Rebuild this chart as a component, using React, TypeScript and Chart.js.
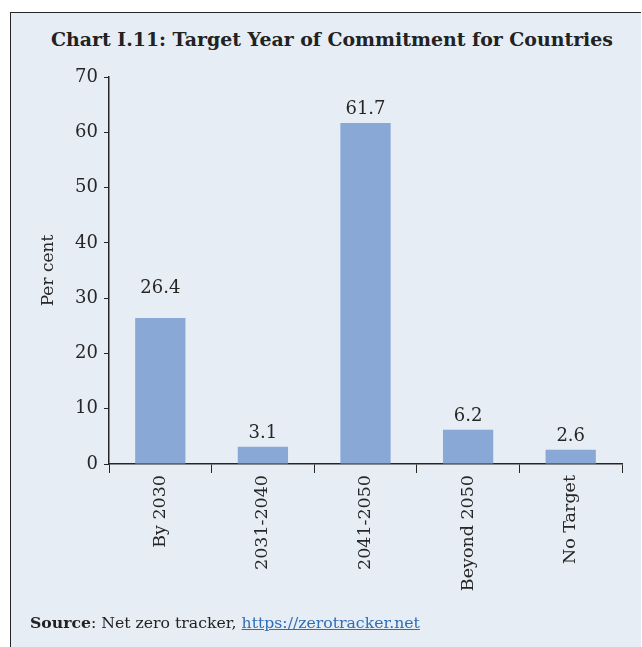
import React, { useEffect, useRef } from "react";
import { Chart, registerables } from "chart.js";

Chart.register(...registerables);

const categories = ["By 2030", "2031-2040", "2041-2050", "Beyond 2050", "No Target"];
const shares = [26.4, 3.1, 61.7, 6.2, 2.6];
const yTicks = [0, 10, 20, 30, 40, 50, 60, 70];

const FONT = "'DejaVu Serif', 'Liberation Serif', serif";
const BG = "#e6edf5";
const BAR = "#8aa8d6";
const INK = "#262626";

const valueLabels = {
  id: "valueLabels",
  afterDatasetsDraw(chart: any) {
    const { ctx } = chart;
    const meta = chart.getDatasetMeta(0);
    const data = chart.data.datasets[0].data as number[];
    ctx.save();
    ctx.font = `18px ${FONT}`;
    ctx.fillStyle = INK;
    ctx.textAlign = "center";
    ctx.textBaseline = "alphabetic";
    meta.data.forEach((bar: any, i: number) => {
      const gap = i === 0 ? 25 : 9;
      ctx.fillText(data[i].toFixed(1), bar.x, bar.y - gap);
    });
    ctx.restore();
  },
};

export default function App() {
  const ref = useRef<HTMLCanvasElement>(null);
  useEffect(() => {
    if (!ref.current) return;
    const chart = new Chart(ref.current, {
      type: "bar",
      data: {
        labels: categories,
        datasets: [
          {
            data: shares,
            backgroundColor: BAR,
            borderWidth: 0,
            barPercentage: 0.49,
            categoryPercentage: 1,
          },
        ],
      },
      options: {
        animation: false,
        responsive: false,
        maintainAspectRatio: false,
        layout: { padding: { left: 38, right: 20, top: 77, bottom: 50 } },
        plugins: {
          legend: { display: false },
          tooltip: { enabled: false },
          title: { display: false },
        },
        scales: {
          x: {
            offset: true,
            grid: {
              display: true,
              drawOnChartArea: false,
              drawTicks: true,
              tickLength: 9,
              color: INK,
              offset: true,
            },
            border: { display: true, color: INK, width: 1.5 },
            ticks: {
              color: INK,
              font: { family: FONT, size: 17.5 },
              minRotation: 90,
              maxRotation: 90,
              padding: 2,
              autoSkip: false,
            },
            afterFit(scale: any) {
              scale.height = 133;
            },
          },
          y: {
            min: 0,
            max: 70,
            afterBuildTicks(scale: any) {
              scale.ticks = yTicks.map((v) => ({ value: v }));
            },
            grid: {
              display: true,
              drawOnChartArea: false,
              drawTicks: true,
              tickLength: 5,
              color: INK,
            },
            border: { display: true, color: INK, width: 1.5 },
            ticks: {
              color: INK,
              font: { family: FONT, size: 18 },
              padding: 6,
            },
            title: {
              display: true,
              text: "Per cent",
              color: INK,
              font: { family: FONT, size: 17 },
              padding: { top: 0, bottom: 10 },
            },
            afterFit(scale: any) {
              scale.width = 71;
            },
          },
        },
      },
      plugins: [valueLabels],
    });
    return () => chart.destroy();
  }, []);

  return (
    <div
      style={{
        position: "fixed",
        left: 0,
        top: 0,
        width: 642,
        height: 647,
        background: "#fff",
        overflow: "hidden",
      }}
    >
      <div
        style={{
          position: "absolute",
          left: 10,
          top: 12,
          width: 631,
          height: 650,
          background: BG,
          borderLeft: `1.5px solid ${INK}`,
          borderTop: `1.5px solid ${INK}`,
          boxSizing: "border-box",
        }}
      />
      <div
        style={{
          position: "absolute",
          left: 12,
          width: 640,
          top: 28,
          textAlign: "center",
          fontFamily: FONT,
          fontWeight: "bold",
          fontSize: 18.9,
          color: "#222",
          whiteSpace: "nowrap",
        }}
      >
        Chart I.11: Target Year of Commitment for Countries
      </div>
      <canvas
        ref={ref}
        width={642}
        height={647}
        style={{ position: "absolute", left: 0, top: 0, width: 642, height: 647 }}
      />
      <div
        style={{
          position: "absolute",
          left: 30,
          top: 613,
          fontFamily: FONT,
          fontSize: 15.7,
          color: "#222",
          whiteSpace: "nowrap",
        }}
      >
        <b>Source</b>: Net zero tracker,{" "}
        <a href="https://zerotracker.net" style={{ color: "#2f6db5" }}>
          https://zerotracker.net
        </a>
      </div>
    </div>
  );
}
